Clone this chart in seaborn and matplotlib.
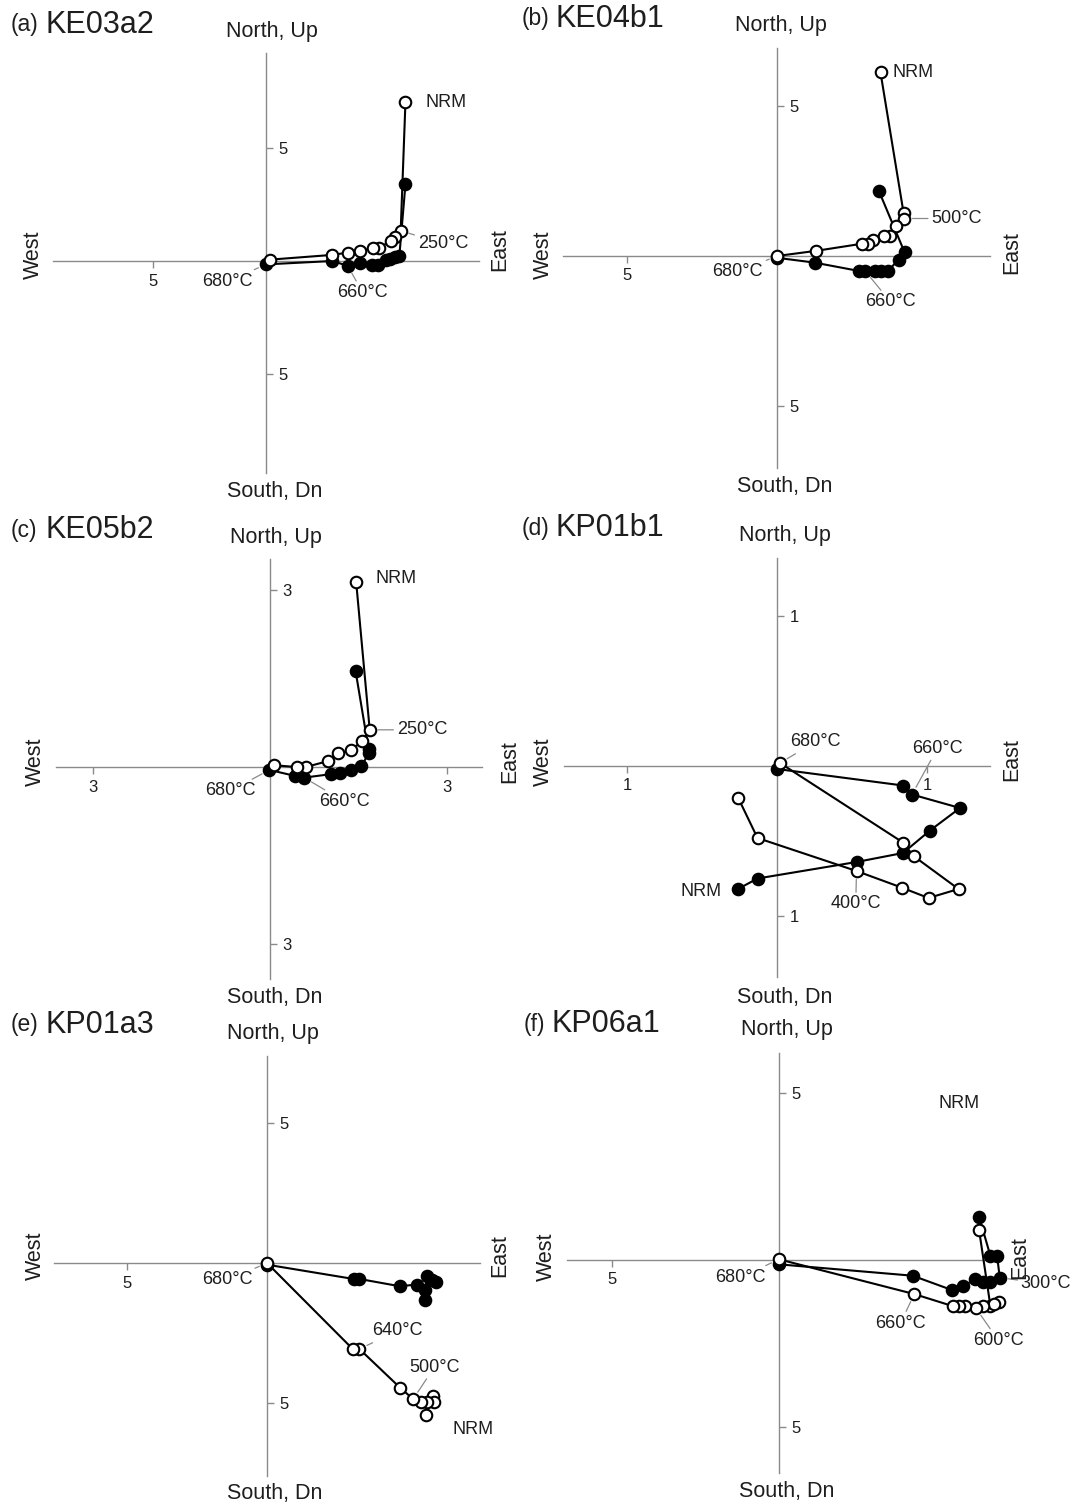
import seaborn as sns
import matplotlib.pyplot as plt
import numpy as np

sns.set_style("white")
plt.rcParams['font.family'] = ['Liberation Sans', 'DejaVu Sans']

W, H = 1072, 1506

# Zijderveld data: open = vertical projection (E, Up), filled = horizontal (E, N)
# (a) KE03a2
a_open_x = [6.17, 5.96, 5.70, 5.52, 4.99, 4.75, 4.15, 3.61, 2.93, 0.18]
a_open_y = [7.02, 1.34, 1.05, 0.90, 0.56, 0.56, 0.46, 0.37, 0.27, 0.06]
a_fill_x = [6.17, 5.90, 5.70, 5.47, 5.32, 4.95, 4.69, 4.15, 3.61, 2.93, 0.00]
a_fill_y = [3.39, 0.22, 0.16, 0.09, 0.04, -0.18, -0.18, -0.10, -0.21, 0.00, -0.15]

# (b) KE04b1
b_open_x = [3.45, 4.22, 4.24, 3.95, 3.76, 3.56, 3.19, 3.04, 2.84, 1.29, 0.00]
b_open_y = [6.12, 1.43, 1.25, 0.99, 0.68, 0.66, 0.55, 0.41, 0.41, 0.17, 0.00]
b_fill_x = [3.40, 4.25, 4.05, 3.70, 3.48, 3.25, 2.94, 2.74, 1.25, 0.00]
b_fill_y = [2.16, 0.13, -0.12, -0.50, -0.50, -0.50, -0.50, -0.50, -0.22, -0.06]

# (c) KE05b2
c_open_x = [1.46, 1.69, 1.56, 1.37, 1.16, 0.98, 0.61, 0.45, 0.06]
c_open_y = [3.14, 0.63, 0.44, 0.28, 0.24, 0.10, 0.00, 0.00, 0.03]
c_fill_x = [1.45, 1.67, 1.67, 1.55, 1.37, 1.19, 1.04, 0.58, 0.42, -0.01]
c_fill_y = [1.63, 0.31, 0.23, 0.01, -0.05, -0.10, -0.12, -0.18, -0.15, -0.05]

# (d) KP01b1
d_open_x = [-0.26, -0.13, 0.53, 0.83, 1.01, 1.21, 0.91, 0.84, 0.02]
d_open_y = [-0.21, -0.48, -0.70, -0.81, -0.88, -0.82, -0.60, -0.51, 0.02]
d_fill_x = [-0.26, -0.13, 0.53, 0.84, 1.02, 1.22, 0.90, 0.84, 0.00]
d_fill_y = [-0.82, -0.75, -0.64, -0.58, -0.43, -0.28, -0.19, -0.13, -0.02]

# (e) KP01a3
e_open_x = [5.68, 5.93, 5.96, 5.71, 5.49, 5.22, 4.76, 3.30, 3.06, 0.00]
e_open_y = [-5.44, -4.76, -4.98, -4.98, -4.98, -4.86, -4.46, -3.07, -3.07, 0.00]
e_fill_x = [5.63, 5.90, 6.02, 5.71, 5.65, 5.35, 4.74, 3.30, 3.09, 0.00]
e_fill_y = [-1.31, -0.60, -0.69, -0.45, -0.95, -0.77, -0.83, -0.57, -0.57, -0.06]

# (f) KP06a1
f_open_x = [5.99, 6.33, 6.58, 6.43, 6.12, 5.90, 5.56, 5.40, 5.20, 4.05, 0.00]
f_open_y = [0.90, -1.38, -1.25, -1.32, -1.38, -1.45, -1.38, -1.38, -1.38, -1.02, 0.02]
f_fill_x = [5.99, 6.33, 6.53, 6.61, 6.33, 6.10, 5.87, 5.51, 5.18, 4.00, 0.00]
f_fill_y = [1.30, 0.12, 0.12, -0.53, -0.65, -0.65, -0.58, -0.78, -0.90, -0.47, -0.13]

# label specs: text, series, index, dx px, dy px (down), ha, leader
panels = [
    dict(tag='(a)', name='KE03a2', tag_x=11, name_x=45, title_y=25,
         box=(53, 479, 53, 473), origin=(266, 261), scale=22.6,
         xticks=[-5], yticks=[5, -5],
         data=(a_open_x, a_open_y, a_fill_x, a_fill_y),
         north=(272, 32), south=(275, 492), west=(33, 255), east=(500, 250),
         labels=[('NRM', 'o', 0, 20, 0, 'left', False),
                 ('250°C', 'o', 1, 17, 13, 'left', True),
                 ('680°C', 'f', -1, -13, 17, 'right', True),
                 ('660°C', 'f', 8, -10, 27, 'left', True)]),
    dict(tag='(b)', name='KE04b1', tag_x=522, name_x=556, title_y=19,
         box=(563, 990, 48, 468), origin=(777, 256), scale=30,
         xticks=[-5], yticks=[5, -5],
         data=(b_open_x, b_open_y, b_fill_x, b_fill_y),
         north=(781, 25), south=(785, 487), west=(543, 255), east=(1012, 253),
         labels=[('NRM', 'o', 0, 12, 0, 'left', False),
                 ('500°C', 'o', 2, 27, 0, 'left', True),
                 ('680°C', 'o', -1, -14, 16, 'right', True),
                 ('660°C', 'f', 6, 0, 31, 'left', True)]),
    dict(tag='(c)', name='KE05b2', tag_x=11, name_x=45, title_y=530,
         box=(56, 482, 559, 979), origin=(270, 767), scale=59,
         xticks=[-3, 3], yticks=[3, -3],
         data=(c_open_x, c_open_y, c_fill_x, c_fill_y),
         north=(276, 537), south=(275, 998), west=(35, 762), east=(510, 762),
         labels=[('NRM', 'o', 0, 19, -3, 'left', False),
                 ('250°C', 'o', 1, 27, 0, 'left', True),
                 ('680°C', 'f', -1, -14, 21, 'right', True),
                 ('660°C', 'f', 7, 15, 24, 'left', True)]),
    dict(tag='(d)', name='KP01b1', tag_x=522, name_x=556, title_y=528,
         box=(564, 990, 558, 977), origin=(777, 766), scale=150,
         xticks=[-1, 1], yticks=[1, -1],
         data=(d_open_x, d_open_y, d_fill_x, d_fill_y),
         north=(785, 535), south=(785, 997), west=(543, 762), east=(1012, 760),
         labels=[('680°C', 'o', -1, 10, -21, 'left', True),
                 ('660°C', 'f', 6, 0, -46, 'left', True),
                 ('400°C', 'o', 2, -26, 33, 'left', True),
                 ('NRM', 'f', 0, -16, 3, 'right', False)]),
    dict(tag='(e)', name='KP01a3', tag_x=11, name_x=45, title_y=1025,
         box=(54, 480, 1056, 1476), origin=(267, 1263), scale=28,
         xticks=[-5], yticks=[5, -5],
         data=(e_open_x, e_open_y, e_fill_x, e_fill_y),
         north=(273, 1033), south=(275, 1493), west=(35, 1256), east=(500, 1256),
         labels=[('680°C', 'o', -1, -14, 17, 'right', True),
                 ('640°C', 'o', 7, 13, -18, 'left', True),
                 ('500°C', 'o', 5, -4, -32, 'left', True),
                 ('NRM', 'o', 0, 26, 14, 'left', False)]),
    dict(tag='(f)', name='KP06a1', tag_x=524, name_x=551, title_y=1024,
         box=(567, 995, 1053, 1473), origin=(779, 1260), scale=33.4,
         xticks=[-5], yticks=[5, -5],
         data=(f_open_x, f_open_y, f_fill_x, f_fill_y),
         north=(787, 1030), south=(787, 1492), west=(546, 1257), east=(1020, 1258),
         labels=[('300°C', 'f', 3, 21, 6, 'left', True),
                 ('660°C', 'o', 9, -39, 29, 'left', True),
                 ('600°C', 'o', 5, -3, 32, 'left', True),
                 ('680°C', 'o', -1, -13, 18, 'right', True)]),
]

fig = plt.figure(figsize=(W / 100, H / 100), dpi=100)
axis_grey = '#8a8a8a'
ink = '#1e1e1e'


def fx(px):
    return px / W


def fy(py):
    return 1 - py / H


for p in panels:
    x0, x1, y0, y1 = p['box']
    ox, oy = p['origin']
    s = p['scale']
    ax = fig.add_axes([fx(x0), fy(y1), (x1 - x0) / W, (y1 - y0) / H])
    ax.set_xlim((x0 - ox) / s, (x1 - ox) / s)
    ax.set_ylim((oy - y1) / s, (oy - y0) / s)

    ax.spines['top'].set_visible(False)
    ax.spines['left'].set_visible(False)
    ax.spines['right'].set_position(('data', 0))
    ax.spines['bottom'].set_position(('data', 0))
    for sp in ('right', 'bottom'):
        ax.spines[sp].set_color(axis_grey)
        ax.spines[sp].set_linewidth(1.0)
    ax.yaxis.set_ticks_position('right')
    ax.xaxis.set_ticks_position('bottom')
    ax.set_xticks(p['xticks'])
    ax.set_xticklabels([f"{abs(v):g}" for v in p['xticks']])
    ax.set_yticks(p['yticks'])
    ax.set_yticklabels([f"{abs(v):g}" for v in p['yticks']])
    ax.tick_params(length=5, width=1, color=axis_grey, labelsize=12,
                   pad=4, labelcolor=ink)
    ax.patch.set_alpha(0)

    o_x, o_y, f_x, f_y = p['data']
    sns.lineplot(x=np.array(f_x), y=np.array(f_y), sort=False, estimator=None,
                 ax=ax, color='black', lw=1.5, marker='o', markersize=8.3,
                 markerfacecolor='black', markeredgecolor='black',
                 markeredgewidth=1.5, zorder=3, clip_on=False)
    sns.lineplot(x=np.array(o_x), y=np.array(o_y), sort=False, estimator=None,
                 ax=ax, color='black', lw=1.5, marker='o', markersize=8.3,
                 markerfacecolor='white', markeredgecolor='black',
                 markeredgewidth=1.5, zorder=4, clip_on=False)
    ax.set_xlabel('')
    ax.set_ylabel('')

    series = {'o': (o_x, o_y), 'f': (f_x, f_y)}
    for txt, ser, idx, dx, dy, ha, leader in p['labels']:
        sx, sy = series[ser]
        props = None
        if leader:
            props = dict(arrowstyle='-', color=axis_grey, lw=0.9,
                         shrinkA=0, shrinkB=6)
        ax.annotate(txt, xy=(sx[idx], sy[idx]), xytext=(dx * 0.72, -dy * 0.72),
                    textcoords='offset points', ha=ha, va='center',
                    fontsize=13, color=ink, arrowprops=props,
                    zorder=5, annotation_clip=False)

    # panel title and direction labels
    fig.text(fx(p['tag_x']), fy(p['title_y']), p['tag'], fontsize=16.5,
             ha='left', va='center', color=ink)
    fig.text(fx(p['name_x']), fy(p['title_y']), p['name'], fontsize=22,
             ha='left', va='center', color=ink)
    fig.text(fx(p['north'][0]), fy(p['north'][1]), 'North, Up', fontsize=15.5,
             ha='center', va='center', color=ink)
    fig.text(fx(p['south'][0]), fy(p['south'][1]), 'South, Dn', fontsize=15.5,
             ha='center', va='center', color=ink)
    fig.text(fx(p['west'][0]), fy(p['west'][1]), 'West', fontsize=15.5,
             rotation=90, ha='center', va='center', color=ink)
    fig.text(fx(p['east'][0]), fy(p['east'][1]), 'East', fontsize=15.5,
             rotation=90, ha='center', va='center', color=ink)

# the NRM step of KP06a1 lies off the plotted area; only its label is shown
fig.text(fx(939), fy(1104), 'NRM', fontsize=13, ha='left', va='center',
         color=ink)

plt.savefig('out.png', dpi=100)
plt.close()
